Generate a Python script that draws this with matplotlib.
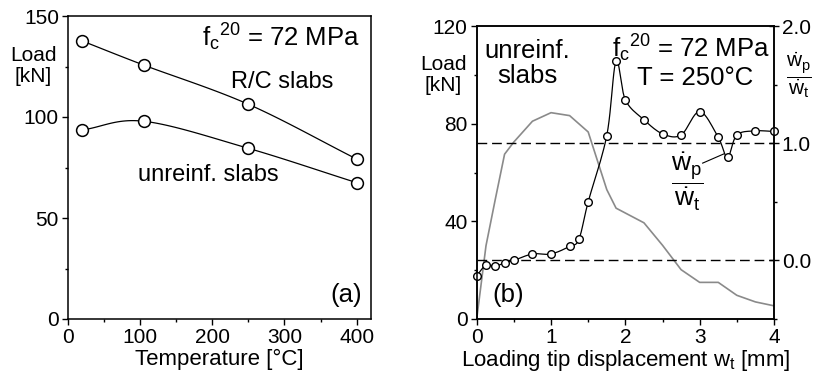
import numpy as np
import matplotlib
matplotlib.use('Agg')
import matplotlib.pyplot as plt
from matplotlib.ticker import MultipleLocator, FormatStrFormatter

#---------------- DATA ----------------
temps = [20, 105, 250, 400]
load_rc = [137.6, 125.7, 106.3, 79.2]
load_unreinf = [93.6, 97.9, 84.5, 67.5]

# panel (b): load vs displacement (grey) and rate ratio (circles)
disp_load = [0, 0.125, 0.25, 0.375, 0.5, 0.75, 1.0, 1.25, 1.5, 1.75, 1.875,
             2.25, 2.5, 2.75, 3.0, 3.25, 3.5, 3.75, 4.0]
load_b = [0, 30, 49, 67.5, 72.5, 81, 84.5, 83.3, 76.6, 53, 45.4,
          39.4, 30.2, 20.2, 15, 15, 9.7, 7.0, 5.4]

disp_ratio = [0, 0.125, 0.25, 0.375, 0.5, 0.75, 1.0, 1.25, 1.375, 1.5, 1.75,
              1.875, 2.0, 2.25, 2.5, 2.75, 3.0, 3.25, 3.375, 3.5, 3.75, 4.0]
ratio = [-0.13, -0.04, -0.05, -0.02, 0.0, 0.055, 0.055, 0.12, 0.18, 0.5, 1.065,
         1.70, 1.37, 1.20, 1.08, 1.07, 1.27, 1.05, 0.88, 1.07, 1.105, 1.10]

#---------------- STYLE ----------------
plt.rcParams['font.family'] = ['Liberation Sans', 'DejaVu Sans']
plt.rcParams['mathtext.fontset'] = 'custom'
plt.rcParams['mathtext.rm'] = 'Liberation Sans'
plt.rcParams['mathtext.it'] = 'Liberation Sans'
plt.rcParams['mathtext.bf'] = 'Liberation Sans:bold'
plt.rcParams['axes.linewidth'] = 1.1

TICK = 15


def spline(x, y, n=25):
    # Catmull-Rom connector through the points (the original used a spline line)
    x = np.asarray(x, float)
    y = np.asarray(y, float)
    px = np.concatenate([[2 * x[0] - x[1]], x, [2 * x[-1] - x[-2]]])
    py = np.concatenate([[2 * y[0] - y[1]], y, [2 * y[-1] - y[-2]]])
    t = np.linspace(0, 1, n)
    xs, ys = [], []
    for i in range(1, len(px) - 2):
        for p, out in ((px, xs), (py, ys)):
            p0, p1, p2, p3 = p[i - 1], p[i], p[i + 1], p[i + 2]
            out.extend(0.5 * (2 * p1 + (-p0 + p2) * t
                              + (2 * p0 - 5 * p1 + 4 * p2 - p3) * t ** 2
                              + (-p0 + 3 * p1 - 3 * p2 + p3) * t ** 3))
    return xs, ys


def style_ticks(ax):
    ax.tick_params(which='major', direction='out', length=4.5, width=1.0,
                   labelsize=TICK, pad=2)
    ax.tick_params(which='minor', direction='out', length=2.5, width=1.0)


fig = plt.figure(figsize=(8.14, 3.77), dpi=100)
W, H = 814, 377

#---------------- PANEL (a) ----------------
ax1 = fig.add_axes([68 / W, 1 - 319 / H, 303 / W, 303 / H])
for yv in (load_rc, load_unreinf):
    sx, sy = spline(temps, yv)
    ax1.plot(sx, sy, color='black', lw=0.9)
    ax1.plot(temps, yv, 'o', mfc='white', mec='black', ms=8.5, mew=1.1,
             clip_on=False)
ax1.set_xlim(0, 420)
ax1.set_ylim(0, 150)
ax1.xaxis.set_major_locator(MultipleLocator(100))
ax1.xaxis.set_minor_locator(MultipleLocator(50))
ax1.yaxis.set_major_locator(MultipleLocator(50))
ax1.yaxis.set_minor_locator(MultipleLocator(25))
style_ticks(ax1)
ax1.set_xlabel('Temperature [°C]', fontsize=TICK + 1, labelpad=1)

ax1.text(404, 139.6, r'f$_\mathrm{c}{}^\mathrm{20}$ = 72 MPa', fontsize=18.5,
         ha='right', va='center')
ax1.text(297, 117.3, 'R/C slabs', fontsize=17, ha='center', va='center')
ax1.text(194, 71.3, 'unreinf. slabs', fontsize=17, ha='center', va='center')
ax1.text(408, 11.9, '(a)', fontsize=18.5, ha='right', va='center')
fig.text(33 / W, 1 - 66 / H, 'Load\n[kN]', fontsize=TICK, ha='center',
         va='center', linespacing=1.1)

#---------------- PANEL (b) ----------------
ax2 = fig.add_axes([476.7 / W, 1 - 319 / H, 297.3 / W, 293 / H])
ax3 = ax2.twinx()
ax2.plot(disp_load, load_b, color='#8a8a8a', lw=1.2)
ax2.set_xlim(0, 4)
ax2.set_ylim(0, 120)
ax2.xaxis.set_major_locator(MultipleLocator(1))
ax2.xaxis.set_minor_locator(MultipleLocator(0.5))
ax2.yaxis.set_major_locator(MultipleLocator(40))
ax2.yaxis.set_minor_locator(MultipleLocator(20))
style_ticks(ax2)
ax2.set_xlabel(r'Loading tip displacement w$_\mathrm{t}$ [mm]',
               fontsize=TICK + 1, labelpad=1)

ax3.axhline(1.0, color='black', lw=1.0, dashes=(7, 3.5))
ax3.axhline(0.0, color='black', lw=1.0, dashes=(7, 3.5))
sx, sy = spline(disp_ratio, ratio, n=12)
ax3.plot(sx, sy, color='black', lw=0.9)
ax3.plot(disp_ratio, ratio, 'o', mfc='white', mec='black', ms=5.5, mew=1.0,
         clip_on=False)
ax3.set_ylim(-0.5, 2.0)
ax3.yaxis.set_major_locator(MultipleLocator(1))
ax3.yaxis.set_minor_locator(MultipleLocator(0.5))
ax3.yaxis.set_major_formatter(FormatStrFormatter('%.1f'))
style_ticks(ax3)
ax3.tick_params(axis='y', which='major', direction='inout', length=7)

frac = r'$\dfrac{\dot{\mathrm{w}}_\mathrm{p}}{\dot{\mathrm{w}}_\mathrm{t}}$'
ax3.text(2.83, 0.67, frac, fontsize=19, ha='center', va='center')
ax3.plot([3.04, 3.33], [0.83, 0.91], color='black', lw=0.8)

ax2.text(0.68, 104.7, 'unreinf.\nslabs', fontsize=18.5, ha='center',
         va='center', linespacing=1.05)
ax2.text(3.94, 110.9, r'f$_\mathrm{c}{}^\mathrm{20}$ = 72 MPa', fontsize=18.5,
         ha='right', va='center')
ax2.text(2.94, 98.6, 'T = 250°C', fontsize=18.5, ha='center', va='center')
ax2.text(0.21, 9.8, '(b)', fontsize=18.5, ha='left', va='center')
fig.text(443 / W, 1 - 75 / H, 'Load\n[kN]', fontsize=TICK, ha='center',
         va='center', linespacing=1.1)
fig.text(812 / W, 1 - 75 / H, frac, fontsize=15, ha='right', va='center')

fig.savefig('out.png', dpi=100)
